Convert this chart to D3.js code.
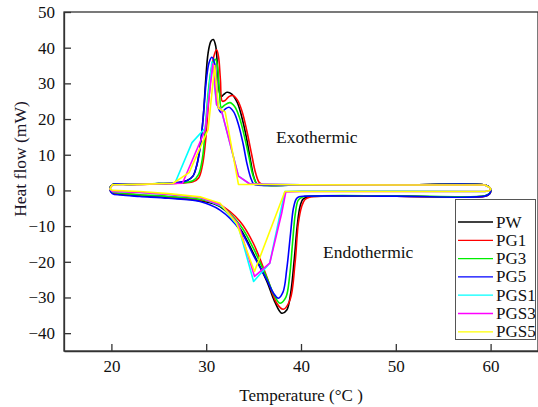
<!DOCTYPE html>
<html><head><meta charset="utf-8">
<script src="https://cdn.jsdelivr.net/npm/d3@7"></script>
<style>
html,body{margin:0;padding:0;background:#fff;}
svg{display:block;}
svg text{font-family:"Liberation Serif","Times New Roman",serif !important;}
</style></head>
<body>
<svg id="chart" width="538" height="407"></svg>
<script>
// ---------- DATA ----------
const seriesNames = ["PW","PG1","PG3","PG5","PGS1","PGS3","PGS5"];
const xTicks = [20,30,40,50,60];
const yTicks = [-40,-30,-20,-10,0,10,20,30,40,50];

// PW
const pwExoT = [19.85,20.1,22,25,27,28,28.6,29.0,29.35,29.7,29.95,30.2,30.5,30.75,31.0,31.2,31.4,31.6,31.85,32.2,32.7,33.3,33.9,34.3,34.7,35.0,35.3,35.7,40,50,59.4,59.9];
const pwExoV = [0.4,1.6,1.7,1.9,2.2,2.8,4,7,12,21,31,38.5,41.8,42.3,40.5,34,27.5,26.3,26.9,27.5,27,24.5,19,14,8,4,2,1.6,1.5,1.5,1.5,0.8];
const pwEndoT = [20.1,21,23,26,29.35,31.5,33.6,35.0,36.4,37.2,37.96,38.5,38.9,39.3,39.6,39.9,40.2,40.6,41.2,50,59.4,59.9];
const pwEndoV = [-0.7,-1.1,-1.5,-2.0,-2.9,-4.6,-10.8,-17.8,-25.5,-31,-34.4,-33.5,-29,-19,-10,-4.5,-2.5,-1.9,-1.7,-1.6,-1.6,-0.9];
// PG1
const pg1ExoT = [19.85,20.1,22,25,27,28.6,29.2,29.6,29.9,30.2,30.5,30.8,31.1,31.3,31.5,31.7,32.0,32.4,32.8,33.3,33.8,34.3,34.8,35.2,35.6,36.0,40,50,59.4,59.9];
const pg1ExoV = [0.4,1.6,1.6,1.8,2.0,2.4,3.5,7,13,23,32,37.5,39.4,37.5,31,25,25.2,26.3,26.6,25.3,22,16.5,10,5,2.2,1.6,1.5,1.5,1.5,0.8];
const pg1EndoT = [20.1,21,23,26,29.35,31.46,33.57,34.97,36.38,37.44,38.13,38.84,39.37,39.72,40.07,40.4,40.9,41.5,50,59.4,59.9];
const pg1EndoV = [-0.6,-0.9,-1.3,-1.8,-2.66,-4.06,-8.7,-14.8,-24.1,-31.6,-33.3,-30.7,-20.4,-9.2,-4.5,-2.6,-1.9,-1.7,-1.6,-1.6,-0.9];
// PG3
const pg3ExoT = [19.85,20.1,22,25,27,28.6,29.2,29.6,29.9,30.2,30.5,30.8,31.0,31.2,31.4,31.6,31.9,32.5,33.0,33.5,34.0,34.5,34.9,35.3,35.7,40,50,59.4,59.9];
const pg3ExoV = [0.4,1.6,1.7,1.9,2.1,2.7,4.5,9,17,27,33.5,36.4,36.7,34.5,27.5,23.2,23.8,24.6,23.5,20.5,15.5,9.5,4.5,2,1.5,1.5,1.5,1.5,0.8];
const pg3EndoT = [20.1,21,23,26,29.35,31.46,33.57,34.97,36.4,37.2,37.8,38.4,38.8,39.1,39.4,39.7,40.1,40.8,50,59.4,59.9];
const pg3EndoV = [-0.4,-0.8,-1.2,-1.7,-2.5,-4.3,-9.7,-16.2,-24.5,-29.5,-31.6,-30,-24,-15,-6.5,-2.8,-1.9,-1.6,-1.5,-1.5,-0.8];
// PG5
const pg5ExoT = [19.85,20.1,22,25,27,28,28.6,29.0,29.35,29.7,30.0,30.3,30.6,30.9,31.1,31.3,31.6,32.0,32.4,32.9,33.4,33.9,34.3,34.7,35.0,35.3,40,50,59.4,59.9];
const pg5ExoV = [0.4,1.6,1.7,1.9,2.2,2.8,4,7,12,21,30.5,35.8,37.3,35.5,29.5,23,21.8,22.8,23.3,22,18.5,13,7.5,3.5,1.8,1.5,1.5,1.5,1.5,0.8];
const pg5EndoT = [20.1,21,23,26,29.35,31.46,33.57,34.97,36.4,37.1,37.6,38.1,38.5,38.9,39.2,39.5,39.8,40.4,50,59.4,59.9];
const pg5EndoV = [-0.9,-1.3,-1.7,-2.2,-3.1,-5.5,-11.1,-18.1,-25.1,-28.8,-30.2,-28.5,-22,-12,-5,-2.4,-1.8,-1.6,-1.6,-1.6,-0.9];
// PGS1
const pgs1ExoT = [19.85,20.1,23,26.7,28.5,29.9,30.6,31.1,31.6,33.4,34.6,40,50,59.4,59.9];
const pgs1ExoV = [0.4,1.6,1.7,2.0,13.4,17.5,36,24,22.5,4,1.8,1.6,1.5,1.5,0.8];
const pgs1EndoT = [20.1,23,26,29.35,31.7,33.4,35.0,36.7,38.3,40,50,59.4,59.9];
const pgs1EndoV = [-0.3,-0.6,-1.1,-2.0,-4.5,-10.1,-25.5,-20.4,-0.3,-0.2,-0.2,-0.3,0];
// PGS3
const pgs3ExoT = [19.85,20.1,23,27.5,29.9,30.7,31.1,31.6,33.4,34.6,40,50,59.4,59.9];
const pgs3ExoV = [0.4,1.6,1.7,2.0,17,35.5,24,22.5,4,1.8,1.6,1.5,1.5,0.8];
const pgs3EndoT = [20.1,23,26,29.35,31.7,33.4,35.1,36.7,37.96,38.4,40,50,59.4,59.9];
const pgs3EndoV = [-0.3,-0.6,-1.1,-2.0,-4.3,-9.5,-24.1,-20.4,-6.4,-0.4,-0.3,-0.3,-0.3,0];
// PGS5
const pgs5ExoT = [19.85,20.1,23,26.5,28.2,30.2,30.9,31.3,32.0,33.4,40,50,59.4,59.9];
const pgs5ExoV = [0.4,1.6,1.7,2.0,5,17,35,23,22,1.7,1.6,1.5,1.5,0.8];
const pgs5EndoT = [20.1,23,26,29.35,31.46,33.2,35.1,38.3,40,50,59.4,59.9];
const pgs5EndoV = [0,-0.3,-0.9,-1.8,-3.6,-9.2,-22.7,-0.3,-0.3,-0.3,-0.3,0];

const colors = ["#000000","#ff0000","#00ee00","#0000ff","#00ffff","#ff00ff","#ffff00"];

// ---------- BUILD ----------
const raw = [
  [pwExoT,pwExoV,pwEndoT,pwEndoV,false],
  [pg1ExoT,pg1ExoV,pg1EndoT,pg1EndoV,false],
  [pg3ExoT,pg3ExoV,pg3EndoT,pg3EndoV,false],
  [pg5ExoT,pg5ExoV,pg5EndoT,pg5EndoV,false],
  [pgs1ExoT,pgs1ExoV,pgs1EndoT,pgs1EndoV,true],
  [pgs3ExoT,pgs3ExoV,pgs3EndoT,pgs3EndoV,true],
  [pgs5ExoT,pgs5ExoV,pgs5EndoT,pgs5EndoV,true]
];
const series = raw.map((r,i)=>{
  const exo = r[0].map((t,j)=>[t,r[1][j]]);
  const endo = r[2].map((t,j)=>[t,r[3][j]]);
  const right = [[60.02,(r[1][r[1].length-1]+r[3][r[3].length-1])/2]];
  const pts = exo.concat(right, endo.slice().reverse());
  return {name:seriesNames[i], color:colors[i], pts, linear:r[4]};
});

const svg = d3.select("#chart");
const FONT = "'Liberation Serif','Times New Roman',serif";
const x = d3.scaleLinear().domain([15,65]).range([64,538]);
const y = d3.scaleLinear().domain([-45,50]).range([351,12]);

// frame
svg.append("rect").attr("x",64).attr("y",12).attr("width",474).attr("height",339)
  .attr("fill","none").attr("stroke","#333").attr("stroke-width",1.3);

const gx = svg.append("g").attr("transform","translate(0,351)")
  .call(d3.axisBottom(x).tickValues(xTicks).tickSizeInner(-7).tickSizeOuter(0).tickPadding(9));
const gy = svg.append("g").attr("transform","translate(64,0)")
  .call(d3.axisLeft(y).tickValues(yTicks).tickSizeInner(-7).tickSizeOuter(0).tickPadding(9));
[gx,gy].forEach(g=>{
  g.attr("font-family",FONT).attr("font-size",17);
  g.select(".domain").attr("stroke","#333").attr("stroke-width",1.3);
  g.selectAll(".tick line").attr("stroke","#333").attr("stroke-width",1.3);
  g.selectAll(".tick text").attr("fill","#111");
});

// lines
svg.append("clipPath").attr("id","clip").append("rect")
  .attr("x",64).attr("y",12).attr("width",474).attr("height",339);
const plot = svg.append("g").attr("clip-path","url(#clip)");
series.forEach(s=>{
  const line = d3.line().x(d=>x(d[0])).y(d=>y(d[1]))
    .curve(s.linear ? d3.curveLinearClosed : d3.curveCatmullRomClosed.alpha(0.5));
  plot.append("path").datum(s.pts).attr("d",line)
    .attr("fill","none").attr("stroke",s.color).attr("stroke-width",1.6)
    .attr("stroke-linejoin","round");
});

// annotations
svg.append("text").attr("x",276).attr("y",143).attr("font-size",17.5).attr("fill","#111").text("Exothermic");
svg.append("text").attr("x",323).attr("y",258).attr("font-size",17.5).attr("fill","#111").text("Endothermic");

// axis titles
svg.append("text").attr("x",301).attr("y",401).attr("text-anchor","middle")
  .attr("font-size",17).attr("fill","#111").text("Temperature (°C )");
svg.append("text").attr("transform","translate(26,159) rotate(-90)").attr("text-anchor","middle")
  .attr("font-size",17.5).attr("fill","#1a1428").text("Heat flow (mW)");

// legend
const lg = svg.append("g");
lg.append("rect").attr("x",455.5).attr("y",199.5).attr("width",80).attr("height",140)
  .attr("fill","#fff").attr("stroke","#555").attr("stroke-width",1);
series.forEach((s,i)=>{
  const yy = 222 + i*18.3;
  lg.append("line").attr("x1",458).attr("x2",493).attr("y1",yy).attr("y2",yy)
    .attr("stroke",s.color).attr("stroke-width",1.3);
  lg.append("text").attr("x",496).attr("y",yy+5.5).attr("font-size",17).attr("fill","#111").text(s.name);
});
</script>
</body></html>
